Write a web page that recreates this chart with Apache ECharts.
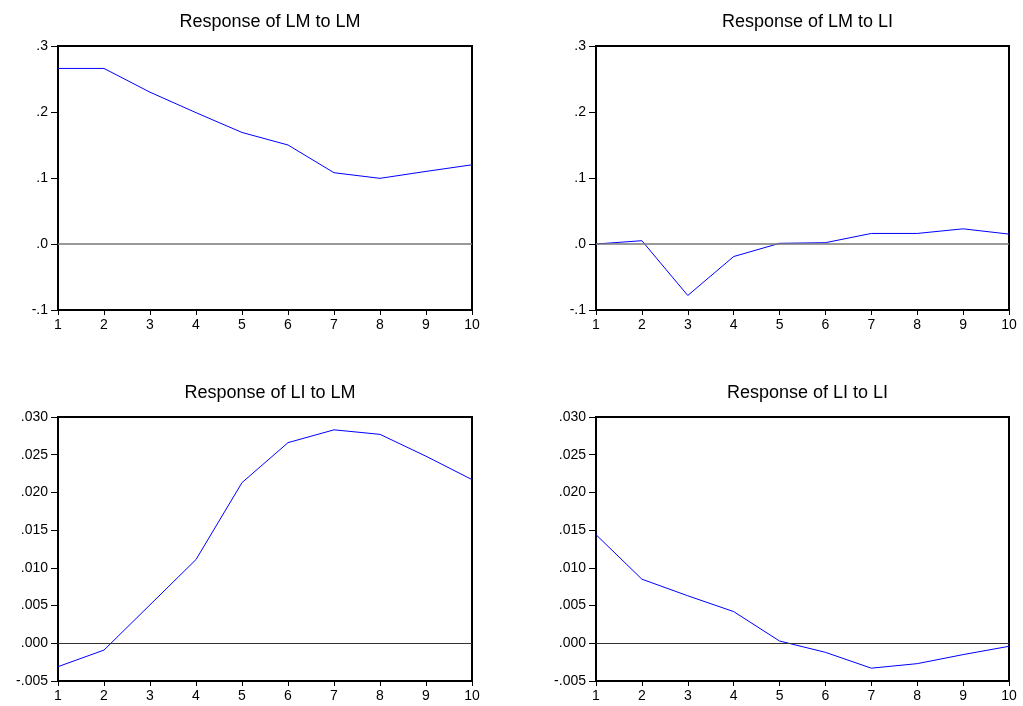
<!DOCTYPE html>
<html>
<head>
<meta charset="utf-8">
<script src="https://cdn.jsdelivr.net/npm/echarts@6/dist/echarts.min.js"></script>
<style>
  html, body { margin: 0; padding: 0; background: #fff; }
  #chart { width: 1023px; height: 706px; }
</style>
</head>
<body>
<div id="chart"></div>
<script>
// Impulse-response horizons
const periods = [1, 2, 3, 4, 5, 6, 7, 8, 9, 10];

// Responses (Cholesky, one s.d. innovations)
const lmToLm = [0.266, 0.266, 0.230, 0.199, 0.169, 0.150, 0.108, 0.0995, 0.110, 0.120];
const lmToLi = [0.000, 0.005, -0.078, -0.019, 0.001, 0.002, 0.016, 0.016, 0.023, 0.015];
const liToLm = [-0.0031, -0.0009, 0.0051, 0.0111, 0.0213, 0.0266, 0.0283, 0.0277, 0.0248, 0.0217];
const liToLi = [0.0144, 0.0085, 0.0063, 0.0042, 0.0003, -0.0012, -0.0033, -0.0027, -0.0015, -0.0004];

const panelTitles = ['Response of LM to LM', 'Response of LM to LI', 'Response of LI to LM', 'Response of LI to LI'];

// Y tick labels for the two scales
const topTickLabels = ['-.1', '.0', '.1', '.2', '.3'];
const bottomTickLabels = ['-.005', '.000', '.005', '.010', '.015', '.020', '.025', '.030'];

const panels = [
  { values: lmToLm, left: 58, top: 46, width: 414, height: 264, min: -0.1, max: 0.3, step: 0.1, labels: topTickLabels, zero: { color: '#777', width: 1.5 } },
  { values: lmToLi, left: 596, top: 46, width: 413, height: 264, min: -0.1, max: 0.3, step: 0.1, labels: topTickLabels, zero: { color: '#777', width: 1.5 } },
  { values: liToLm, left: 58, top: 417, width: 414, height: 264, min: -0.005, max: 0.03, step: 0.005, labels: bottomTickLabels, zero: { color: '#333', width: 1 } },
  { values: liToLi, left: 596, top: 417, width: 413, height: 264, min: -0.005, max: 0.03, step: 0.005, labels: bottomTickLabels, zero: { color: '#333', width: 1 } }
];

const font = 'Liberation Sans, Arial, sans-serif';

const option = {
  backgroundColor: '#fff',
  animation: false,
  title: panels.map((p, i) => ({
    text: panelTitles[i],
    left: p.left + p.width / 2,
    top: p.top - 38,
    textAlign: 'center',
    textStyle: { fontFamily: font, fontSize: 18, fontWeight: 'normal', color: '#000' }
  })),
  grid: panels.map(p => ({
    left: p.left, top: p.top, width: p.width, height: p.height,
    show: true, borderColor: '#000', borderWidth: 2, backgroundColor: '#fff'
  })),
  xAxis: panels.map((p, i) => ({
    type: 'value', gridIndex: i, min: 1, max: 10, interval: 1,
    axisLine: { show: false, onZero: false },
    axisTick: { show: true, inside: false, length: 5, lineStyle: { color: '#000', width: 1 } },
    axisLabel: { margin: 8, fontFamily: font, fontSize: 14, color: '#000' },
    splitLine: { show: false }
  })),
  yAxis: panels.map((p, i) => ({
    type: 'value', gridIndex: i, min: p.min, max: p.max, interval: p.step,
    axisLine: { show: false, onZero: false },
    axisTick: { show: true, inside: false, length: 7, lineStyle: { color: '#000', width: 1 } },
    axisLabel: {
      margin: 10, fontFamily: font, fontSize: 14, color: '#000',
      formatter: v => p.labels[Math.round((v - p.min) / p.step)]
    },
    splitLine: { show: false }
  })),
  series: panels.map((p, i) => ({
    type: 'line', xAxisIndex: i, yAxisIndex: i,
    data: periods.map((x, k) => [x, p.values[k]]),
    showSymbol: false, symbol: 'none',
    lineStyle: { color: '#0000ff', width: 1 },
    markLine: {
      silent: true, symbol: ['none', 'none'], label: { show: false },
      lineStyle: { color: p.zero.color, width: p.zero.width, type: 'solid' },
      data: [{ yAxis: 0 }]
    }
  }))
};

const chart = echarts.init(document.getElementById('chart'), null, { renderer: 'canvas' });
chart.setOption(option);
</script>
</body>
</html>
